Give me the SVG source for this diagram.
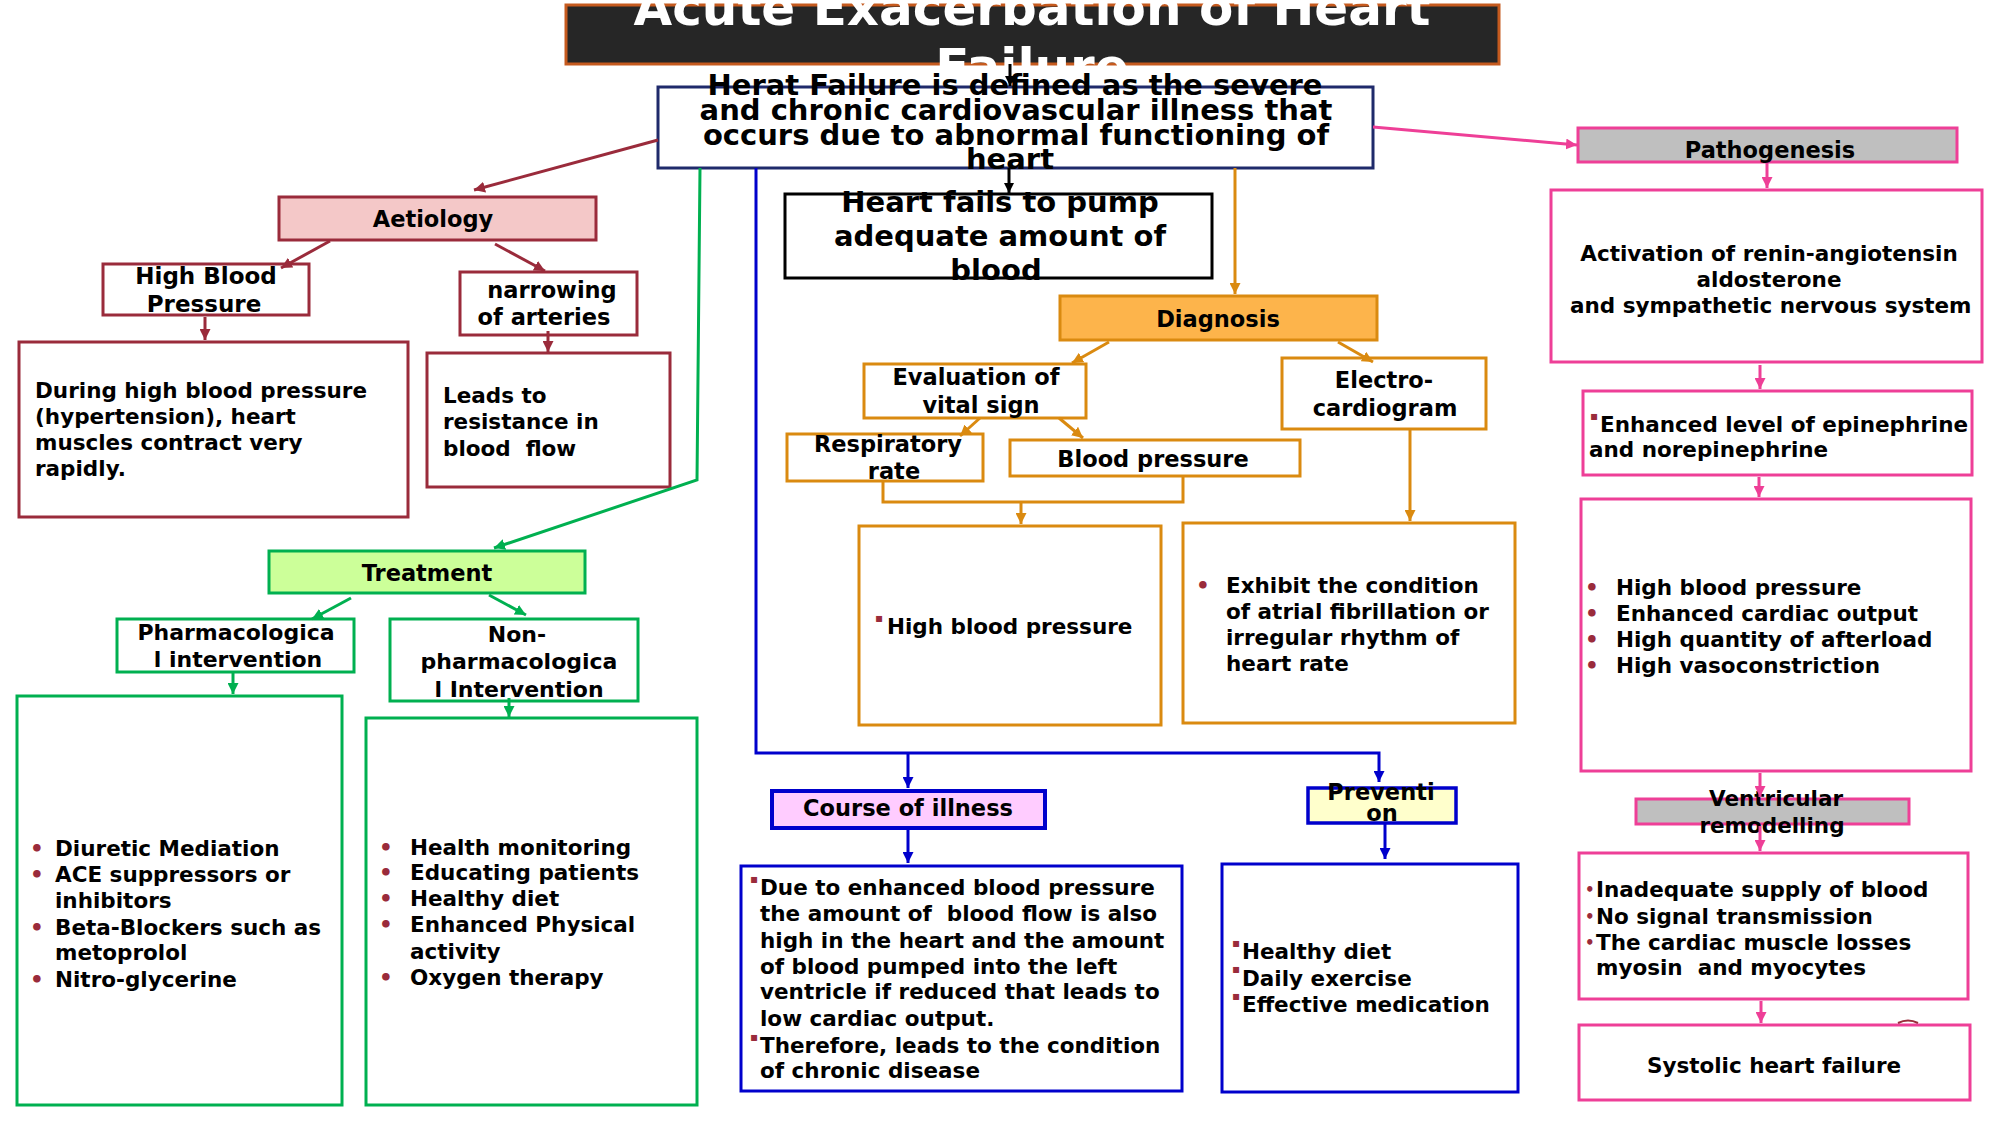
<svg xmlns="http://www.w3.org/2000/svg" width="2001" height="1125" viewBox="0 0 2001 1125">
<defs>
<style>
.t{font-family:"DejaVu Sans","Liberation Sans",sans-serif;font-weight:bold;fill:#000;font-size:21.5px}
.h{font-size:22.5px}
.c{text-anchor:middle}
.bx{fill:#fff;stroke-width:3}
.dr{stroke:#9A2B3B}
.gr{stroke:#00B050}
.or{stroke:#DA8A10}
.bl{stroke:#0000CC}
.pk{stroke:#EE3F97}
.bul{fill:#9A2B3B}
.sq{fill:#9A2B3B;font-size:12px}
.ln{fill:none;stroke-width:3}
</style>
<marker id="a-dr" viewBox="0 0 10 10" refX="10" refY="5" markerWidth="11" markerHeight="11" markerUnits="userSpaceOnUse" orient="auto"><path d="M0,0 L10,5 L0,10 z" fill="#9A2B3B"/></marker>
<marker id="a-gr" viewBox="0 0 10 10" refX="10" refY="5" markerWidth="11" markerHeight="11" markerUnits="userSpaceOnUse" orient="auto"><path d="M0,0 L10,5 L0,10 z" fill="#00B050"/></marker>
<marker id="a-or" viewBox="0 0 10 10" refX="10" refY="5" markerWidth="11" markerHeight="11" markerUnits="userSpaceOnUse" orient="auto"><path d="M0,0 L10,5 L0,10 z" fill="#DA8A10"/></marker>
<marker id="a-bl" viewBox="0 0 10 10" refX="10" refY="5" markerWidth="11" markerHeight="11" markerUnits="userSpaceOnUse" orient="auto"><path d="M0,0 L10,5 L0,10 z" fill="#0000CC"/></marker>
<marker id="a-pk" viewBox="0 0 10 10" refX="10" refY="5" markerWidth="11" markerHeight="11" markerUnits="userSpaceOnUse" orient="auto"><path d="M0,0 L10,5 L0,10 z" fill="#EE3F97"/></marker>
<marker id="a-k" viewBox="0 0 10 10" refX="10" refY="5" markerWidth="10" markerHeight="10" markerUnits="userSpaceOnUse" orient="auto"><path d="M0,0 L10,5 L0,10 z" fill="#000"/></marker>
</defs>
<rect width="2001" height="1125" fill="#fff"/>

<g id="title">
<rect x="566" y="5" width="933" height="59" fill="#262626" stroke="#C55A1E" stroke-width="3"/>
<text class="t c" x="1032" y="25" style="font-size:50px;fill:#fff">Acute Exacerbation of Heart</text>
<text class="t c" x="1032" y="84" style="font-size:50px;fill:#fff">Failure</text>
</g>

<g id="definition">
<rect class="bx" x="658" y="87" width="715" height="81" stroke="#1F2A6B"/>
<text class="t c" style="font-size:29px"><tspan x="1015" y="95">Herat Failure is defined as the severe</tspan><tspan x="1016" y="120">and chronic cardiovascular illness that</tspan><tspan x="1016" y="145">occurs due to abnormal functioning of</tspan><tspan x="1010" y="169">heart</tspan></text>
</g>

<g id="heart-fails">
<rect class="bx" x="785" y="194" width="427" height="84" stroke="#000"/>
<text class="t c" style="font-size:29px"><tspan x="1000" y="212">Heart fails to pump</tspan><tspan x="1000" y="246">adequate amount of</tspan><tspan x="996" y="280">blood</tspan></text>
</g>

<g id="aetiology">
<rect x="279" y="197" width="317" height="43" fill="#F4C8C8" stroke="#9A2B3B" stroke-width="3"/>
<text class="t h c" x="433" y="227">Aetiology</text>
</g>
<g id="high-blood-pressure">
<rect class="bx dr" x="103" y="264" width="206" height="51"/>
<text class="t c" style="font-size:23px"><tspan x="206" y="284">High Blood</tspan><tspan x="204" y="312">Pressure</tspan></text>
</g>
<g id="narrowing">
<rect class="bx dr" x="460" y="272" width="177" height="63"/>
<text class="t c" style="font-size:22.5px"><tspan x="552" y="298">narrowing</tspan><tspan x="544" y="325">of arteries</tspan></text>
</g>
<g id="hbp-detail">
<rect class="bx dr" x="19" y="342" width="389" height="175"/>
<text class="t"><tspan x="35" y="398">During high blood pressure</tspan><tspan x="35" y="424">(hypertension), heart</tspan><tspan x="35" y="450">muscles contract very</tspan><tspan x="35" y="476">rapidly.</tspan></text>
</g>
<g id="narrowing-detail">
<rect class="bx dr" x="427" y="353" width="243" height="134"/>
<text class="t" xml:space="preserve"><tspan x="443" y="403">Leads to</tspan><tspan x="443" y="429">resistance in</tspan><tspan x="443" y="456">blood  flow</tspan></text>
</g>

<g id="treatment">
<rect x="269" y="551" width="316" height="42" fill="#CCFF99" stroke="#00B050" stroke-width="3"/>
<text class="t h c" x="427" y="581">Treatment</text>
</g>
<g id="pharma">
<rect class="bx gr" x="117" y="619" width="237" height="53"/>
<text class="t c" style="font-size:22px"><tspan x="236" y="640">Pharmacologica</tspan><tspan x="238" y="667">l intervention</tspan></text>
</g>
<g id="non-pharma">
<rect class="bx gr" x="390" y="619" width="248" height="82"/>
<text class="t c" style="font-size:22px"><tspan x="517" y="642">Non-</tspan><tspan x="519" y="669">pharmacologica</tspan><tspan x="519" y="697">l Intervention</tspan></text>
</g>
<g id="pharma-list">
<rect class="bx gr" x="17" y="696" width="325" height="409"/>
<text class="t bul"><tspan x="30" y="856">•</tspan><tspan x="30" y="882">•</tspan><tspan x="30" y="935">•</tspan><tspan x="30" y="987">•</tspan></text>
<text class="t"><tspan x="55" y="856">Diuretic Mediation</tspan><tspan x="55" y="882">ACE suppressors or</tspan><tspan x="55" y="908">inhibitors</tspan><tspan x="55" y="935">Beta-Blockers such as</tspan><tspan x="55" y="960">metoprolol</tspan><tspan x="55" y="987">Nitro-glycerine</tspan></text>
</g>
<g id="non-pharma-list">
<rect class="bx gr" x="366" y="718" width="331" height="387"/>
<text class="t bul"><tspan x="379" y="855">•</tspan><tspan x="379" y="880">•</tspan><tspan x="379" y="906">•</tspan><tspan x="379" y="932">•</tspan><tspan x="379" y="985">•</tspan></text>
<text class="t"><tspan x="410" y="855">Health monitoring</tspan><tspan x="410" y="880">Educating patients</tspan><tspan x="410" y="906">Healthy diet</tspan><tspan x="410" y="932">Enhanced Physical</tspan><tspan x="410" y="959">activity</tspan><tspan x="410" y="985">Oxygen therapy</tspan></text>
</g>

<g id="diagnosis">
<rect x="1060" y="296" width="317" height="44" fill="#FDB44B" stroke="#DA8A10" stroke-width="3"/>
<text class="t h c" x="1218" y="327">Diagnosis</text>
</g>
<g id="evaluation">
<rect class="bx or" x="864" y="364" width="222" height="54"/>
<text class="t c" style="font-size:22.5px"><tspan x="976" y="385">Evaluation of</tspan><tspan x="981" y="413">vital sign</tspan></text>
</g>
<g id="electro">
<rect class="bx or" x="1282" y="358" width="204" height="71"/>
<text class="t c" style="font-size:22.5px"><tspan x="1384" y="388">Electro-</tspan><tspan x="1385" y="416">cardiogram</tspan></text>
</g>
<g id="respiratory">
<rect class="bx or" x="787" y="434" width="196" height="47"/>
<text class="t c" style="font-size:22.5px"><tspan x="888" y="452">Respiratory</tspan><tspan x="894" y="479">rate</tspan></text>
</g>
<g id="blood-pressure">
<rect class="bx or" x="1010" y="440" width="290" height="36"/>
<text class="t h c" x="1153" y="467">Blood pressure</text>
</g>
<g id="vital-detail">
<rect class="bx or" x="859" y="526" width="302" height="199"/>
<text class="t sq" x="875" y="622">▪</text>
<text class="t" x="887" y="634">High blood pressure</text>
</g>
<g id="ecg-detail">
<rect class="bx or" x="1183" y="523" width="332" height="200"/>
<text class="t bul" x="1196" y="593">•</text>
<text class="t"><tspan x="1226" y="593">Exhibit the condition</tspan><tspan x="1226" y="619">of atrial fibrillation or</tspan><tspan x="1226" y="645">irregular rhythm of</tspan><tspan x="1226" y="671">heart rate</tspan></text>
</g>

<g id="course">
<rect x="772" y="791" width="273" height="37" fill="#FFCCFF" stroke="#0000CC" stroke-width="4"/>
<text class="t h c" x="908" y="816">Course of illness</text>
</g>
<g id="course-detail">
<rect class="bx bl" x="741" y="866" width="441" height="225" stroke-width="3.5"/>
<text class="t sq"><tspan x="750" y="883">▪</tspan><tspan x="750" y="1041">▪</tspan></text>
<text class="t" xml:space="preserve"><tspan x="760" y="895">Due to enhanced blood pressure</tspan><tspan x="760" y="921">the amount of  blood flow is also</tspan><tspan x="760" y="948">high in the heart and the amount</tspan><tspan x="760" y="974">of blood pumped into the left</tspan><tspan x="760" y="999">ventricle if reduced that leads to</tspan><tspan x="760" y="1026">low cardiac output.</tspan><tspan x="760" y="1053">Therefore, leads to the condition</tspan><tspan x="760" y="1078">of chronic disease</tspan></text>
</g>
<g id="prevention">
<rect x="1308" y="788" width="148" height="35" fill="#FFFFCC" stroke="#0000CC" stroke-width="3.5"/>
<text class="t h c"><tspan x="1381" y="800">Preventi</tspan><tspan x="1382" y="821">on</tspan></text>
</g>
<g id="prevention-detail">
<rect class="bx bl" x="1222" y="864" width="296" height="228" stroke-width="3.5"/>
<text class="t sq"><tspan x="1232" y="947">▪</tspan><tspan x="1232" y="973">▪</tspan><tspan x="1232" y="1000">▪</tspan></text>
<text class="t"><tspan x="1242" y="959">Healthy diet</tspan><tspan x="1242" y="986">Daily exercise</tspan><tspan x="1242" y="1012">Effective medication</tspan></text>
</g>

<g id="pathogenesis">
<rect x="1578" y="128" width="379" height="34" fill="#BFBFBF" stroke="#EE3F97" stroke-width="3"/>
<text class="t h c" x="1770" y="158">Pathogenesis</text>
</g>
<g id="activation">
<rect class="bx pk" x="1551" y="190" width="431" height="172"/>
<text class="t c" xml:space="preserve"><tspan x="1769" y="261">Activation of renin-angiotensin</tspan><tspan x="1769" y="287">aldosterone</tspan><tspan x="1767" y="313"> and sympathetic nervous system</tspan></text>
</g>
<g id="epinephrine">
<rect class="bx pk" x="1583" y="391" width="389" height="84"/>
<text class="t sq" x="1590" y="420">▪</text>
<text class="t"><tspan x="1600" y="432">Enhanced level of epinephrine</tspan><tspan x="1589" y="457">and norepinephrine</tspan></text>
</g>
<g id="patho-list">
<rect class="bx pk" x="1581" y="499" width="390" height="272"/>
<text class="t bul"><tspan x="1585" y="595">•</tspan><tspan x="1585" y="621">•</tspan><tspan x="1585" y="647">•</tspan><tspan x="1585" y="673">•</tspan></text>
<text class="t"><tspan x="1616" y="595">High blood pressure</tspan><tspan x="1616" y="621">Enhanced cardiac output</tspan><tspan x="1616" y="647">High quantity of afterload</tspan><tspan x="1616" y="673">High vasoconstriction</tspan></text>
</g>
<g id="ventricular">
<rect x="1636" y="799" width="273" height="25" fill="#BFBFBF" stroke="#EE3F97" stroke-width="3"/>
<text class="t c"><tspan x="1776" y="806">Ventricular</tspan><tspan x="1772" y="833">remodelling</tspan></text>
</g>
<g id="inadequate">
<rect class="bx pk" x="1579" y="853" width="389" height="146"/>
<text class="t bul" style="font-size:15px"><tspan x="1585" y="895">•</tspan><tspan x="1585" y="922">•</tspan><tspan x="1585" y="948">•</tspan></text>
<text class="t" xml:space="preserve"><tspan x="1596" y="897">Inadequate supply of blood</tspan><tspan x="1596" y="924">No signal transmission</tspan><tspan x="1596" y="950">The cardiac muscle losses</tspan><tspan x="1596" y="975">myosin  and myocytes</tspan></text>
</g>
<g id="systolic">
<rect class="bx pk" x="1579" y="1025" width="391" height="75"/>
<text class="t c" x="1774" y="1073">Systolic heart failure</text>
<path d="M1898,1023 Q1908,1018 1918,1023" fill="none" stroke="#9A2B3B" stroke-width="2"/>
</g>

<g id="connectors">
<path class="ln" stroke="#000" d="M1010,64 V86" marker-end="url(#a-k)" stroke-width="2"/>
<path class="ln" stroke="#000" d="M1009,168 V193" marker-end="url(#a-k)" stroke-width="2"/>
<path class="ln dr" d="M658,140 L474,190" marker-end="url(#a-dr)"/>
<path class="ln dr" d="M330,241 L281,268" marker-end="url(#a-dr)"/>
<path class="ln dr" d="M495,244 L545,271" marker-end="url(#a-dr)"/>
<path class="ln dr" d="M205,317 V340" marker-end="url(#a-dr)"/>
<path class="ln dr" d="M548,331 V352" marker-end="url(#a-dr)"/>
<path class="ln gr" d="M700,168 L697,480 L494,548" marker-end="url(#a-gr)"/>
<path class="ln gr" d="M351,598 L312,619" marker-end="url(#a-gr)"/>
<path class="ln gr" d="M489,595 L526,615" marker-end="url(#a-gr)"/>
<path class="ln gr" d="M233,672 V694" marker-end="url(#a-gr)"/>
<path class="ln gr" d="M509,698 V717" marker-end="url(#a-gr)"/>
<path class="ln or" d="M1235,168 V294" marker-end="url(#a-or)"/>
<path class="ln or" d="M1109,342 L1072,363" marker-end="url(#a-or)"/>
<path class="ln or" d="M1338,342 L1373,362" marker-end="url(#a-or)"/>
<path class="ln or" d="M980,418 L960,436" marker-end="url(#a-or)"/>
<path class="ln or" d="M1059,418 L1083,438" marker-end="url(#a-or)"/>
<path class="ln or" d="M883,481 V502 H1183 V476"/>
<path class="ln or" d="M1021,502 V524" marker-end="url(#a-or)"/>
<path class="ln or" d="M1410,429 V521" marker-end="url(#a-or)"/>
<path class="ln bl" d="M756,168 V753 H1379 V782" marker-end="url(#a-bl)"/>
<path class="ln bl" d="M908,753 V788" marker-end="url(#a-bl)"/>
<path class="ln bl" d="M908,828 V863" marker-end="url(#a-bl)"/>
<path class="ln bl" d="M1385,823 V859" marker-end="url(#a-bl)"/>
<path class="ln pk" d="M1373,127 L1577,145" marker-end="url(#a-pk)"/>
<path class="ln pk" d="M1767,163 V188" marker-end="url(#a-pk)"/>
<path class="ln pk" d="M1760,365 V389" marker-end="url(#a-pk)"/>
<path class="ln pk" d="M1759,477 V497" marker-end="url(#a-pk)"/>
<path class="ln pk" d="M1760,773 V797" marker-end="url(#a-pk)"/>
<path class="ln pk" d="M1760,826 V851" marker-end="url(#a-pk)"/>
<path class="ln pk" d="M1761,1001 V1023" marker-end="url(#a-pk)"/>
</g>
</svg>
